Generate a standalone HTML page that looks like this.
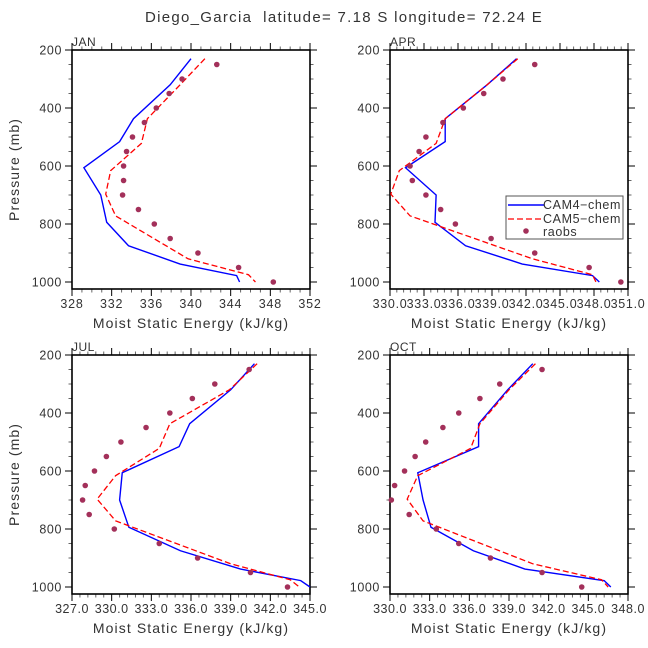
<!DOCTYPE html>
<html><head><meta charset="utf-8"><style>
body{margin:0;background:#fff}
svg{display:block;font-family:"Liberation Sans","DejaVu Sans",sans-serif}
</style></head><body>
<svg id="c" width="648" height="648" viewBox="0 0 648 648">
<text x="344" y="22" font-size="15" fill="#333" text-anchor="middle" letter-spacing="1.3" xml:space="preserve">Diego_Garcia  latitude= 7.18 S longitude= 72.24 E</text>
</svg>
<script>
// Pressure levels
const obsLev = [250,300,350,400,450,500,550,600,650,700,750,800,850,900,950,1000];
const cam4Lev = [230,320,437,516,606,700,794,875,938,978,1000];
const cam5Lev = [230,320,437,522,616,697,772,920,975,1000];
// JAN
const janCam4 = [340.0,337.9,334.2,332.8,329.2,330.9,331.5,333.7,338.9,344.6,344.9];
const janCam5 = [341.4,338.9,335.6,335.0,331.9,331.4,332.4,339.7,345.8,346.5];
const janObs = [342.6,339.1,337.8,336.5,335.3,334.1,333.5,333.2,333.2,333.1,334.7,336.3,337.9,340.7,344.8,348.3];
// APR
const aprCam4 = [341.2,338.6,334.9,334.9,331.4,334.1,334.0,336.7,341.7,347.9,348.5];
const aprCam5 = [341.3,338.6,334.9,334.1,330.85,330.1,331.8,342.6,347.9,348.2];
const aprObs = [342.8,340.0,338.3,336.5,334.7,333.2,332.6,331.8,332.0,333.2,334.5,335.8,338.95,342.8,347.6,350.4];
// JUL
const julCam4 = [340.8,339.0,335.9,335.1,330.8,330.6,331.3,335.2,339.75,344.3,345.0];
const julCam5 = [341.0,338.9,334.4,333.6,330.3,328.9,330.3,339.0,343.5,344.2];
const julObs = [340.4,337.8,336.1,334.4,332.6,330.7,329.6,328.7,328.0,327.8,328.3,330.2,333.6,336.5,340.5,343.3];
// OCT
const octCam4 = [340.8,338.9,336.7,336.7,332.1,332.5,333.1,336.3,340.2,346.2,346.7];
const octCam5 = [341.0,339.0,336.8,336.1,332.1,331.3,332.5,340.8,346.0,346.5];
const octObs = [341.5,338.3,336.8,335.2,334.0,332.7,331.9,331.1,330.35,330.1,331.45,333.5,335.2,337.6,341.5,344.5];
// tick labels
const xTicksJan = [328,332,336,340,344,348,352];
const xTicksApr = [330.03,333.03,336.03,339.03,342.03,345.03,348.03,351.03];
const xTicksJul = [327,330,333,336,339,342,345];
const xTicksOct = [330,333,336,339,342,345,348];
const yTicks = [200,400,600,800,1000];

const NS='http://www.w3.org/2000/svg';
const svg=document.getElementById('c');
function mk(tag,attrs,parent){const e=document.createElementNS(NS,tag);for(const k in attrs)e.setAttribute(k,attrs[k]);(parent||svg).appendChild(e);return e;}

function panel(opt){
  const L=opt.l,R=opt.l+238,T=opt.t,B=opt.t+239;
  const xs=v=>L+(v-opt.xmin)/(opt.xmax-opt.xmin)*(R-L);
  const ys=p=>T+(p-200)/800*(opt.t1000-T);
  const g=mk('g',{});
  
  
  const lab=mk('text',{x:L,y:T-4,'font-size':12,fill:'#333','letter-spacing':0.5},g);lab.textContent=opt.name;
  
  
  for(let p=200;p<=1000;p+=50){const y=ys(p);const maj=(p%200===0);
    mk('line',{x1:L-(maj?7:3.5),x2:L,y1:y,y2:y,stroke:maj?'#000':'#666','stroke-width':1},g);
    mk('line',{x1:R,x2:R+(maj?7:3.5),y1:y,y2:y,stroke:maj?'#000':'#666','stroke-width':1},g);}
  yTicks.forEach(p=>{const t=mk('text',{x:L-10,y:ys(p)+4.5,'font-size':12.5,fill:'#333','text-anchor':'end','letter-spacing':0.6},g);t.textContent=p;
    
    });
  const tk=opt.ticks,step=tk[1]-tk[0],minor=step/opt.nminor;
  for(let v=tk[0];v<=opt.xmax+1e-6;v+=minor){const x=xs(v);const k=Math.round((v-tk[0])/minor);const maj=k%opt.nminor===0;
    mk('line',{x1:x,x2:x,y1:B,y2:B+(maj?7:3.5),stroke:maj?'#000':'#666','stroke-width':1},g);
    mk('line',{x1:x,x2:x,y1:T-(maj?7:3.5),y2:T,stroke:maj?'#000':'#666','stroke-width':1},g);}
  tk.forEach(v=>{const t=mk('text',{x:xs(v),y:B+19,'font-size':12.5,fill:'#333','text-anchor':'middle','letter-spacing':opt.ls},g);t.textContent=opt.fmt(v);
    
    });
  const xt=mk('text',{x:(L+R)/2,y:B+39,'font-size':14,fill:'#333','text-anchor':'middle','letter-spacing':1.1},g);xt.textContent='Moist Static Energy (kJ/kg)';
  
  
  if(opt.ylab){const yt=mk('text',{x:0,y:0,'font-size':14,fill:'#333','text-anchor':'middle','letter-spacing':1.1,transform:`translate(19,${(T+B)/2}) rotate(-90)`},g);yt.textContent='Pressure (mb)';
    
    }
  mk('rect',{x:L,y:T,width:R-L,height:B-T,fill:'none',stroke:'#000','stroke-width':1.6},g);
  const p4=mk('polyline',{points:opt.c4.map((v,i)=>xs(v)+','+ys(cam4Lev[i])).join(' '),fill:'none',stroke:'#0000ff','stroke-width':1.4},g);
  
  
  const p5=mk('polyline',{points:opt.c5.map((v,i)=>xs(v)+','+ys(cam5Lev[i])).join(' '),fill:'none',stroke:'#ff0000','stroke-width':1.3,'stroke-dasharray':'6,3'},g);
  
  
  opt.ob.forEach((v,i)=>{const c=mk('circle',{cx:xs(v),cy:ys(obsLev[i]),r:2.8,fill:'#a3305a'},g);
    
    });
}
panel({name:'JAN',l:72,t:50,t1000:282,xmin:328,xmax:352,ticks:xTicksJan,nminor:4,ls:0.8,fmt:v=>v,c4:janCam4,c5:janCam5,ob:janObs,ylab:true});
panel({name:'APR',l:390,t:50,t1000:282,xmin:330.03,xmax:351.03,ticks:xTicksApr,nminor:5,ls:0.7,fmt:v=>v.toFixed(1),c4:aprCam4,c5:aprCam5,ob:aprObs,ylab:false});
panel({name:'JUL',l:72,t:355,t1000:587,xmin:327,xmax:345,ticks:xTicksJul,nminor:5,ls:0.5,fmt:v=>v.toFixed(1),c4:julCam4,c5:julCam5,ob:julObs,ylab:true});
panel({name:'OCT',l:390,t:355,t1000:587,xmin:330,xmax:348,ticks:xTicksOct,nminor:5,ls:0.5,fmt:v=>v.toFixed(1),c4:octCam4,c5:octCam5,ob:octObs,ylab:false});
const lg=mk('g',{});


mk('rect',{x:506,y:196,width:117,height:43,fill:'#fff',stroke:'#555','stroke-width':1},lg);
mk('line',{x1:508,x2:544,y1:205,y2:205,stroke:'#0000ff','stroke-width':1.4},lg);
mk('line',{x1:508,x2:544,y1:219,y2:219,stroke:'#ff0000','stroke-width':1.3,'stroke-dasharray':'6,3'},lg);
mk('circle',{cx:526,cy:231,r:2.8,fill:'#a3305a'},lg);
[['CAM4−chem',209],['CAM5−chem',223],['raobs',236]].forEach(([t,y])=>{const e=mk('text',{x:543,y:y,'font-size':12.5,fill:'#333','letter-spacing':0.6},lg);e.textContent=t;
  
  });
</script>
</body></html>
